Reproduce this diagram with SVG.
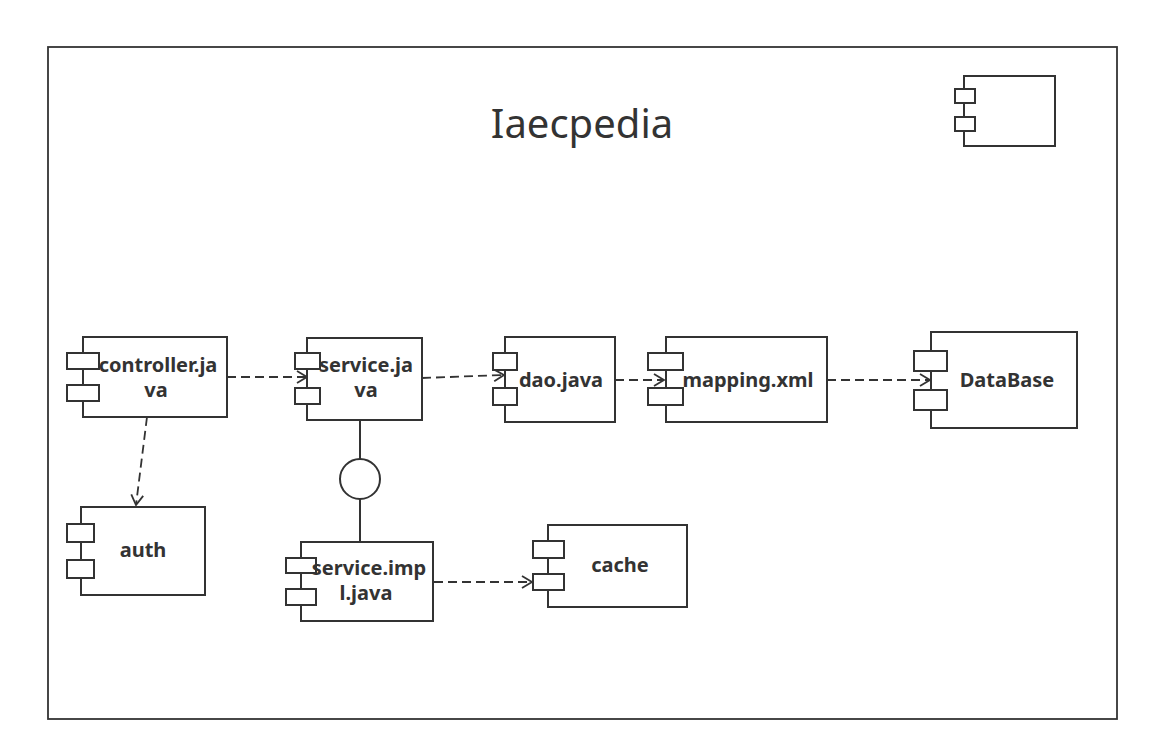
<svg xmlns="http://www.w3.org/2000/svg" width="1149" height="752" viewBox="0 0 1149 752">
<style>
.box{fill:#fff;stroke:#333;stroke-width:2}
.port{fill:#fff;stroke:#333;stroke-width:2}
.lbl{font-family:"Noto Sans","Open Sans",sans-serif;font-weight:bold;font-size:20px;fill:#333;text-anchor:middle}
.title{font-family:"Noto Sans","Open Sans",sans-serif;font-size:40px;fill:#333;text-anchor:middle}
.dep{fill:none;stroke:#333;stroke-width:1.8;stroke-dasharray:9 5;marker-end:url(#open)}
.solid{fill:none;stroke:#333;stroke-width:2}
</style>
<defs>
<marker id="open" markerUnits="userSpaceOnUse" markerWidth="14" markerHeight="16" refX="11" refY="7" orient="auto">
<path d="M1,1 L11,7 L1,13" fill="none" stroke="#333" stroke-width="1.8"/>
</marker>
</defs>
<rect width="1149" height="752" fill="#fff"/>
<g id="frame">
<rect x="48" y="47" width="1069" height="672" fill="#fff" stroke="#333" stroke-width="1.8"/>
<text class="title" x="582" y="138">Iaecpedia</text>
</g>
<g id="icon">
<rect class="box" x="964" y="76" width="91" height="70"/>
<rect class="port" x="955" y="89" width="20" height="14"/>
<rect class="port" x="955" y="117" width="20" height="14"/>
</g>
<g id="connectors">
<line class="dep" x1="227" y1="377" x2="307" y2="377"/>
<line class="dep" x1="422" y1="378" x2="504" y2="375"/>
<line class="dep" x1="615" y1="380" x2="664" y2="380"/>
<line class="dep" x1="827" y1="380" x2="930" y2="380"/>
<line class="dep" x1="147" y1="417" x2="136" y2="505"/>
<line class="dep" x1="434" y1="582" x2="532" y2="582"/>
<line class="solid" x1="360" y1="420" x2="360" y2="459"/>
<line class="solid" x1="360" y1="499" x2="360" y2="542"/>
<circle cx="360" cy="479" r="20" fill="#fff" stroke="#333" stroke-width="2"/>
</g>
<g id="controller">
<rect class="box" x="83" y="337" width="144" height="80"/>
<rect class="port" x="67" y="353" width="32" height="16"/>
<rect class="port" x="67" y="385" width="32" height="16"/>
<text class="lbl" x="158" y="372">controller.ja</text>
<text class="lbl" x="156" y="397">va</text>
</g>
<g id="service">
<rect class="box" x="307" y="338" width="115" height="82"/>
<rect class="port" x="295" y="353" width="25" height="16"/>
<rect class="port" x="295" y="388" width="25" height="16"/>
<text class="lbl" x="366" y="372">service.ja</text>
<text class="lbl" x="366" y="397">va</text>
</g>
<g id="dao">
<rect class="box" x="505" y="337" width="110" height="85"/>
<rect class="port" x="493" y="353" width="24" height="17"/>
<rect class="port" x="493" y="388" width="24" height="17"/>
<text class="lbl" x="561" y="387">dao.java</text>
</g>
<g id="mapping">
<rect class="box" x="666" y="337" width="161" height="85"/>
<rect class="port" x="648" y="353" width="35" height="17"/>
<rect class="port" x="648" y="388" width="35" height="17"/>
<text class="lbl" x="748" y="387">mapping.xml</text>
</g>
<g id="database">
<rect class="box" x="931" y="332" width="146" height="96"/>
<rect class="port" x="914" y="351" width="33" height="20"/>
<rect class="port" x="914" y="390" width="33" height="20"/>
<text class="lbl" x="1007" y="387">DataBase</text>
</g>
<g id="auth">
<rect class="box" x="81" y="507" width="124" height="88"/>
<rect class="port" x="67" y="524" width="27" height="18"/>
<rect class="port" x="67" y="560" width="27" height="18"/>
<text class="lbl" x="143" y="557">auth</text>
</g>
<g id="serviceimpl">
<rect class="box" x="301" y="542" width="132" height="79"/>
<rect class="port" x="286" y="558" width="30" height="15"/>
<rect class="port" x="286" y="589" width="30" height="16"/>
<text class="lbl" x="369" y="575">service.imp</text>
<text class="lbl" x="366" y="600">l.java</text>
</g>
<g id="cache">
<rect class="box" x="548" y="525" width="139" height="82"/>
<rect class="port" x="533" y="541" width="31" height="17"/>
<rect class="port" x="533" y="574" width="31" height="16"/>
<text class="lbl" x="620" y="572">cache</text>
</g>
</svg>
